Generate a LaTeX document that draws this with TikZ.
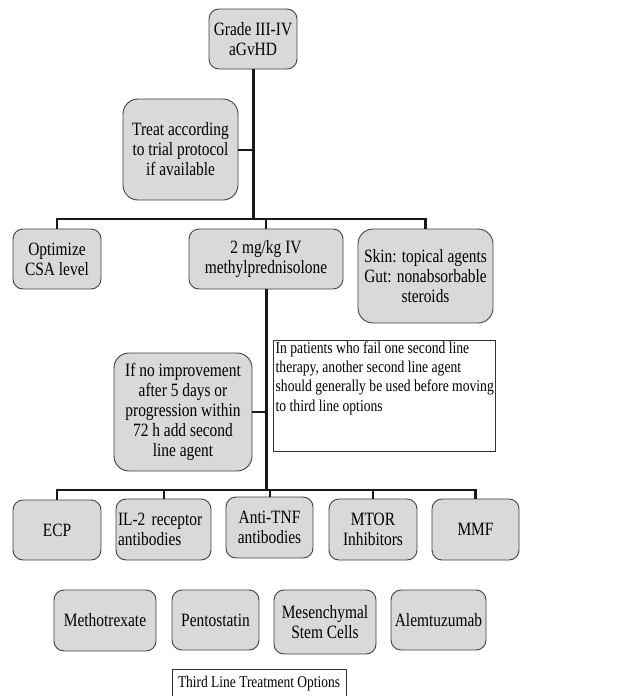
\documentclass[tikz,border=0pt]{standalone}
\usepackage{fontspec}
\setmainfont{Liberation Serif}[FakeStretch=0.82]
\begin{document}
\begin{tikzpicture}[x=1pt,y=-1pt,
  gbox/.style={draw=black!75,line width=0.9pt,fill=black!15,rounded corners=10pt,
    align=center,inner sep=2pt,font=\fontsize{18.8}{20}\selectfont},
  tallbox/.style={gbox,rounded corners=15pt},
  mainline/.style={line width=3pt,color=black!90},
  barline/.style={line width=2.4pt,color=black!90},
  dropline/.style={line width=2pt,color=black!90}]
\useasboundingbox[fill=white] (0,0) rectangle (616,696);
% top
\node[gbox,minimum width=88pt,minimum height=60pt] (grade) at (253,39) {Grade III-IV\\aGvHD};
\node[tallbox,minimum width=115pt,minimum height=101pt] (treat) at (180.5,149.5) {Treat according\\to trial protocol\\if available};
\node[gbox,minimum width=88pt,minimum height=60pt] (opt) at (57,259) {Optimize\\CSA level};
\node[gbox,minimum width=154pt,minimum height=60pt] (meth) at (266,259) {2 mg/kg IV\\methylprednisolone};
\node[tallbox,minimum width=135pt,minimum height=94pt] (skin) at (425.5,276) {Skin: topical agents\\Gut: nonabsorbable\\steroids};
% note
\node[draw=black!80,line width=0.9pt,fill=white,minimum width=222pt,minimum height=111pt,inner sep=0pt,anchor=north west] (note) at (273,340) {};
\node[anchor=north west,inner sep=0pt,align=left,font=\fontsize{16.6}{19.3}\selectfont] (notetext) at ([shift={(2.5,1.5)}]note.north west) {In patients who fail one second line\\therapy, another second line agent\\should generally be used before moving\\to third line options};
\node[tallbox,minimum width=138pt,minimum height=118pt] (ifno) at (183,412) {If no improvement\\after 5 days or\\progression within\\72 h add second\\line agent};
% second line
\node[gbox,minimum width=88pt,minimum height=60pt] (ecp) at (57,530) {ECP};
\node[gbox,minimum width=95pt,minimum height=61pt,align=left,text width=91pt] (il2) at (163.5,529.5) {IL-2 receptor\\antibodies};
\node[gbox,minimum width=87pt,minimum height=61pt] (tnf) at (269.5,527.5) {Anti-TNF\\antibodies};
\node[gbox,minimum width=88pt,minimum height=61pt] (mtor) at (373,529.5) {MTOR\\Inhibitors};
\node[gbox,minimum width=87pt,minimum height=61pt] (mmf) at (475.5,529.5) {MMF};
% third line
\node[gbox,minimum width=102pt,minimum height=61pt] (mtx) at (105,620.5) {Methotrexate};
\node[gbox,minimum width=87pt,minimum height=60pt] (pen) at (215.5,620) {Pentostatin};
\node[gbox,minimum width=102pt,minimum height=64pt] (msc) at (325,622) {Mesenchymal\\Stem Cells};
\node[gbox,minimum width=95pt,minimum height=60pt] (alem) at (438.5,620) {Alemtuzumab};
\node[draw=black!80,line width=0.9pt,minimum width=174pt,minimum height=28pt,inner sep=0pt,anchor=north,font=\fontsize{16.4}{18}\selectfont] (third) at (259,669) {Third Line Treatment Options};
% connectors
\coordinate (b1) at (253,219);
\coordinate (b2) at (267,490);
\draw[mainline] (grade.south) -- (b1);
\draw[barline] (opt.north) |- (skin.north |- b1) -- (skin.north);
\draw[dropline] (meth.north) -- (meth.north |- b1);
\draw[dropline] (treat.east) -- (treat.east -| grade.south);
\draw[mainline] (meth.south) -- (meth.south |- b2);
\draw[dropline] (ifno.east) -- (ifno.east -| meth.south);
\draw[barline] (ecp.north) |- (mmf.north |- b2) -- (mmf.north);
\draw[dropline] (il2.north) -- (il2.north |- b2);
\draw[dropline] (tnf.north) -- (tnf.north |- b2);
\draw[dropline] (mtor.north) -- (mtor.north |- b2);
\end{tikzpicture}
\end{document}
